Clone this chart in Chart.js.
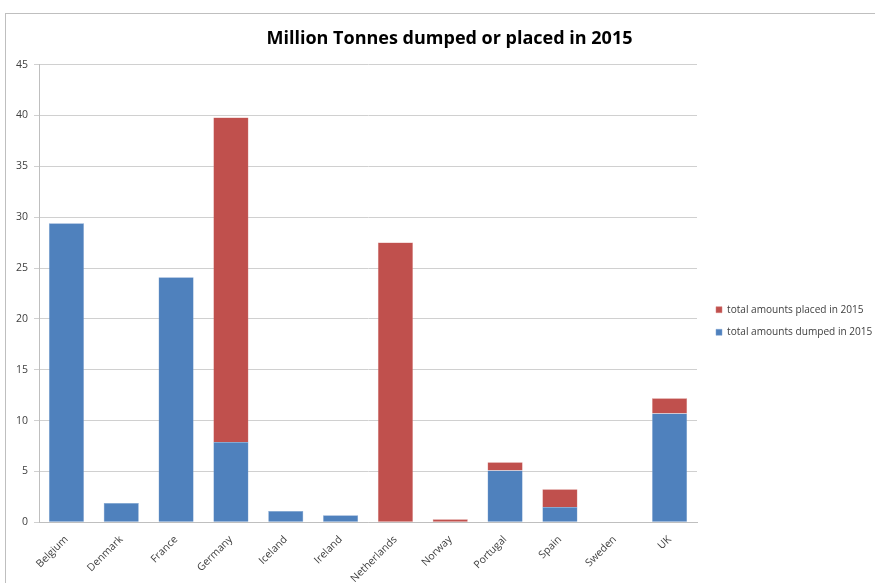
<!DOCTYPE html>
<html>
<head>
<meta charset="utf-8">
<script src="https://cdn.jsdelivr.net/npm/chart.js@4"></script>
<style>
  body { margin: 0; background: #fff; overflow: hidden; }
  #marco { position: absolute; left: 5px; top: 13px; width: 870px; height: 575px;
           border-top: 1px solid #bfbfbf; border-left: 1px solid #bfbfbf; }
</style>
</head>
<body>
<div id="marco"><canvas id="grafico" width="869" height="574"></canvas></div>
<script>
// Datos (millones de toneladas)
const paises = ['Belgium', 'Denmark', 'France', 'Germany', 'Iceland', 'Ireland',
                'Netherlands', 'Norway', 'Portugal', 'Spain', 'Sweden', 'UK'];
const vertido2015 = [29.4, 1.9, 24.1, 7.9, 1.1, 0.7, 0, 0, 5.1, 1.5, 0, 10.7];
const colocado2015 = [0, 0, 0, 31.9, 0, 0, 27.5, 0.3, 0.8, 1.75, 0, 1.5];
const ticksY = [0, 5, 10, 15, 20, 25, 30, 35, 40, 45];

// Recoloca la leyenda y el título después del layout (como en el original)
const ajusteLeyenda = {
    id: 'ajusteLeyenda',
    afterLayout(chart) {
        const lg = chart.legend;
        const dx = (chart.chartArea.right + 19 - lg.options.labels.padding) - lg.left;
        lg.left += dx; lg.right += dx;
        lg.top += 20; lg.bottom += 20;
        const t = chart.titleBlock;
        if (t) { t.left += 7; t.right += 7; }
    }
};

const ctx = document.getElementById('grafico').getContext('2d');
new Chart(ctx, {
    type: 'bar',
    data: {
        labels: paises,
        datasets: [
            {
                label: 'total amounts dumped in 2015',
                data: vertido2015,
                backgroundColor: '#4F81BD',
                borderColor: '#7fa3d0',
                borderWidth: 0.5,
                barPercentage: 0.64,
                categoryPercentage: 1
            },
            {
                label: 'total amounts placed in 2015',
                data: colocado2015,
                backgroundColor: '#C0504D',
                borderColor: '#d47f7d',
                borderWidth: 0.5,
                barPercentage: 0.64,
                categoryPercentage: 1
            }
        ]
    },
    options: {
        responsive: false,
        animation: false,
        layout: { padding: { left: 4, right: 0, top: 0, bottom: 0 } },
        plugins: {
            title: {
                display: true,
                text: 'Million Tonnes dumped or placed in 2015',
                color: '#000',
                font: { family: 'Open Sans', size: 18, weight: 'bold' },
                padding: { top: 14, bottom: 15 }
            },
            legend: {
                position: 'right',
                reverse: true,
                maxWidth: 178,
                labels: {
                    boxWidth: 6,
                    boxHeight: 6,
                    padding: 12.5,
                    color: '#404040',
                    font: { family: 'Open Sans', size: 10.1 }
                }
            },
            tooltip: { enabled: false }
        },
        scales: {
            x: {
                stacked: true,
                grid: { display: false },
                border: { display: true, color: '#bfbfbf' },
                ticks: {
                    minRotation: 45,
                    maxRotation: 45,
                    color: '#404040',
                    font: { family: 'Open Sans', size: 10.5 }
                }
            },
            y: {
                stacked: true,
                min: 0,
                max: 45,
                afterBuildTicks: (eje) => { eje.ticks = ticksY.map(v => ({ value: v })); },
                grid: { color: '#d0d0d0', tickLength: 5 },
                border: { display: true, color: '#bfbfbf' },
                ticks: {
                    color: '#404040',
                    padding: 6,
                    font: { family: 'Open Sans', size: 10.5 }
                }
            }
        }
    },
    plugins: [ajusteLeyenda]
});
</script>
</body>
</html>
